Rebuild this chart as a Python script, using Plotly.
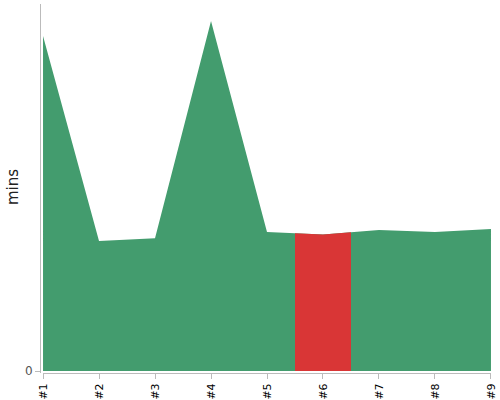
import numpy as np
import plotly.graph_objects as go

categories = ["#1", "#2", "#3", "#4", "#5", "#6", "#7", "#8", "#9"]
positions = [1, 2, 3, 4, 5, 6, 7, 8, 9]
mins = [91.3, 35.4, 36.2, 95.4, 37.9, 37.2, 38.4, 37.9, 38.7]
highlight_index = 5  # "#6"

green = "#439c6e"
red = "#d93636"

fig = go.Figure()
fig.add_trace(go.Scatter(
    x=positions, y=mins, mode="lines", fill="tozeroy",
    line=dict(width=0, color=green), fillcolor=green, hoverinfo="skip",
))

c = positions[highlight_index]
xs = [c - 0.5, c, c + 0.5]
ys = list(np.interp(xs, positions, mins))
fig.add_trace(go.Scatter(
    x=[xs[0]] + xs + [xs[-1]], y=[0] + ys + [0], mode="lines", fill="toself",
    line=dict(width=0, color=red), fillcolor=red, hoverinfo="skip",
))

W = 452
fig.update_layout(
    width=500, height=400,
    margin=dict(l=40, r=8, t=4, b=27),
    paper_bgcolor="white", plot_bgcolor="white",
    showlegend=False,
    font=dict(family="DejaVu Sans", color="#333"),
    xaxis=dict(
        domain=[3 / W, 451 / W], range=[0.9995, 9.0005],
        tickvals=positions, ticktext=categories, tickangle=-90,
        showgrid=False, zeroline=False, automargin=False,
        showline=True, linecolor="#bbb", linewidth=1,
        ticks="outside", ticklen=5, tickcolor="#bbb",
        tickfont=dict(size=11, color="#000"),
    ),
    yaxis=dict(
        anchor="free", position=0, automargin=False,
        range=[-0.545, 100], tickvals=[0], ticktext=["0"],
        showgrid=False, zeroline=False,
        showline=True, linecolor="#bbb", linewidth=1,
        ticks="outside", ticklen=5, tickcolor="#bbb",
        tickfont=dict(size=12, color="#555"),
    ),
    annotations=[dict(
        text="mins", textangle=-90, showarrow=False,
        xref="paper", yref="paper", x=(13 - 40) / W, y=(373 - 187) / 369,
        xanchor="center", yanchor="middle",
        font=dict(size=15, color="#222", family="DejaVu Sans"),
    )],
)

fig.write_html("out.html", config={"displayModeBar": False},
               post_script="document.body.style.margin='0';")
